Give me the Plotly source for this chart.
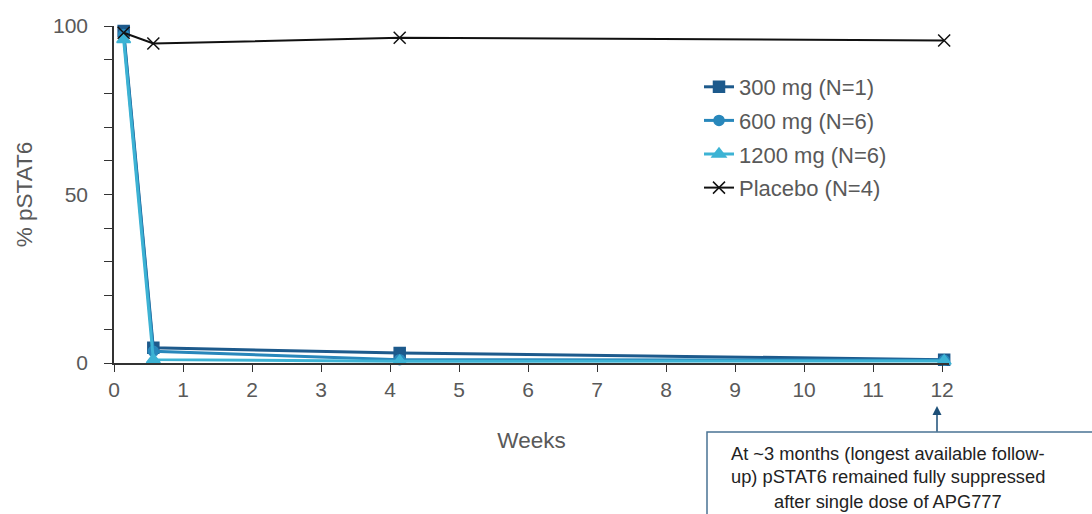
import plotly.graph_objects as go

weeks = [0.14, 0.57, 4.14, 12.03]
mg300 = [98.5, 4.5, 3.0, 1.0]
mg600 = [97.5, 3.5, 1.0, 0.8]
mg1200 = [96.0, 1.0, 0.5, 0.6]
placebo = [98.0, 94.8, 96.5, 95.7]

names = ["300 mg (N=1)", "600 mg (N=6)", "1200 mg (N=6)", "Placebo (N=4)"]
colors = ["#1d5a8c", "#2887bb", "#3db3d4", "#111111"]

L, T = 114, 26
W_PX, H_PX = 835, 337

def px(xp):
    return (xp - L) / W_PX

def py(yp):
    return (T + H_PX - yp) / H_PX

FONT = "Liberation Sans, Arial, sans-serif"
GRAY = "#595959"

fig = go.Figure()
series = [mg300, mg600, mg1200, placebo]
symbols = ["square", "circle", "triangle-up", "x-thin-open"]
msizes = [11, 10, 12, 12]
widths = [3, 3, 3, 2]
for i, s in enumerate(series):
    fig.add_trace(go.Scatter(
        x=weeks, y=s, name=names[i], mode="lines+markers",
        line=dict(color=colors[i], width=widths[i]),
        marker=dict(symbol=symbols[i], size=msizes[i], color=colors[i],
                    line=dict(color=colors[i], width=1.5)),
        legendgroup=str(i), cliponaxis=False,
    ))

tick_font = dict(family=FONT, size=21, color=GRAY)
title_font = dict(family=FONT, size=22.5, color=GRAY)

fig.update_layout(
    width=1092, height=514,
    margin=dict(l=L, r=1092 - L - W_PX, t=T, b=514 - T - H_PX),
    paper_bgcolor="white", plot_bgcolor="white",
    font=tick_font,
    showlegend=True,
    legend=dict(x=px(699), y=py(66), xanchor="left", yanchor="top",
                font=dict(family=FONT, size=22, color=GRAY),
                tracegroupgap=2, bgcolor="rgba(0,0,0,0)"),
    xaxis=dict(range=[0, 12.1], tickmode="array", tickvals=list(range(13)),
               showgrid=False, zeroline=False, showline=True, linecolor="#333333", linewidth=1.5,
               ticks="outside", ticklen=7, tickcolor="#333333",
               title=dict(text="Weeks", standoff=32, font=title_font), tickfont=tick_font),
    yaxis=dict(range=[0, 100], tickmode="array", tickvals=[0, 50, 100],
               showgrid=False, zeroline=False, showline=True, linecolor="#333333", linewidth=1.5,
               ticks="outside", ticklen=8, tickcolor="#333333", ticklabelstandoff=12,
               minor=dict(tickvals=[10, 20, 30, 40, 60, 70, 80, 90], ticks="outside", ticklen=8, tickcolor="#333333"),
               title=dict(text="% pSTAT6", standoff=14, font=title_font), tickfont=tick_font),
)

fig.add_shape(type="rect", xref="paper", yref="paper",
              x0=px(707), x1=px(1100), y0=py(432), y1=py(525),
              line=dict(color="#4a7394", width=1.5), fillcolor="rgba(0,0,0,0)")

fig.add_annotation(xref="paper", yref="paper", x=px(937), y=py(406), ax=0, ay=27,
                   text="", showarrow=True, arrowhead=2, arrowsize=1.2, arrowwidth=1.5,
                   arrowcolor="#1d4f78")

note_lines = ["At ~3 months (longest available follow-",
              "up) pSTAT6 remained fully suppressed",
              "after single dose of APG777"]
for k, t in enumerate(note_lines):
    fig.add_annotation(xref="paper", yref="paper", x=px(888), y=py(453 + 24 * k),
                       text=t, showarrow=False, xanchor="center", yanchor="middle",
                       font=dict(family=FONT, size=18.3, color="#222222"))

fig.write_html("out.html")
